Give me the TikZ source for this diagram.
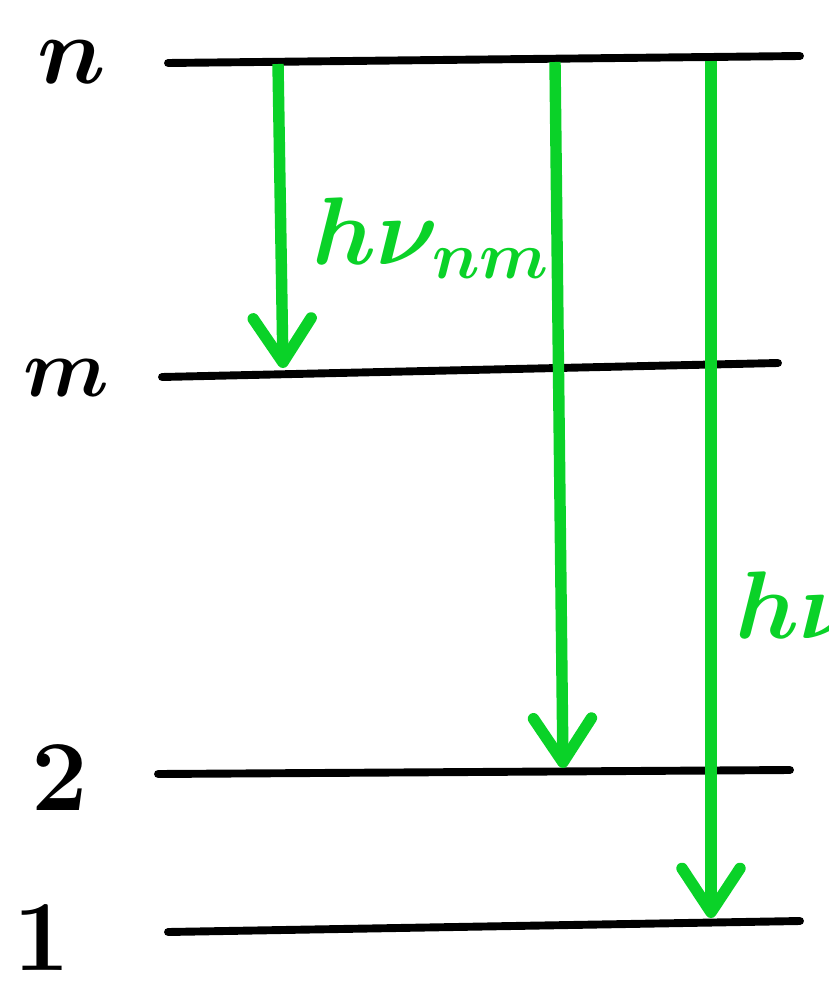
\documentclass[tikz,border=0pt]{standalone}
\usepackage{graphicx}
\usetikzlibrary{arrows.meta}
\definecolor{lgreen}{RGB}{10,210,40}
\newcommand{\biglab}[2]{\scalebox{#1}{\Huge\boldmath #2}}
\begin{document}
\begin{tikzpicture}[x=0.02cm,y=-0.02cm,
  level/.style={line width=4.5pt,line cap=round,black},
  trans/.style={line width=6.5pt,lgreen,-{Straight Barb[length=25pt,width=33pt,round]}},
  lvlabel/.style={inner sep=0pt},
  photon/.style={text=lgreen,anchor=base west,inner sep=0pt}]
\useasboundingbox (0,0) rectangle (828,1007);
\clip (0,0) rectangle (828,1007);
% level end points
\coordinate (nL) at (168,63);  \coordinate (nR) at (800,56);
\coordinate (mL) at (162,377); \coordinate (mR) at (778,363);
\coordinate (tL) at (158,774); \coordinate (tR) at (790,770);
\coordinate (oL) at (168,932); \coordinate (oR) at (800,921);
\draw[level] (nL) -- (nR);
\draw[level] (mL) -- (mR);
\draw[level] (tL) -- (tR);
\draw[level] (oL) -- (oR);
% transition end points
\coordinate (a1) at (278,64);  \coordinate (b1) at (283,368);
\coordinate (a2) at (555,62);  \coordinate (b2) at (563,768);
\coordinate (a3) at (711,61);  \coordinate (b3) at (711,918);
\draw[trans] (a1) -- (b1);
\draw[trans] (a2) -- (b2);
\draw[trans] (a3) -- (b3);
% level labels
\node[lvlabel] (ln) at (72,62) {\biglab{2.2}{$n$}};
\node[lvlabel] (lm) at (66,378) {\biglab{1.9}{$m$}};
\node[lvlabel] (l2) at (60,778) {\biglab{2.3}{$2$}};
\node[lvlabel] (l1) at (42,938) {\biglab{2.3}{$1$}};
% photon labels
\node[photon] (pnm) at (312,264) {\biglab{2.2}{$h\nu_{\scriptscriptstyle nm}$}};
\node[photon] (pn1) at (735,638) {\biglab{2.2}{$h\nu$}};
\end{tikzpicture}
\end{document}
